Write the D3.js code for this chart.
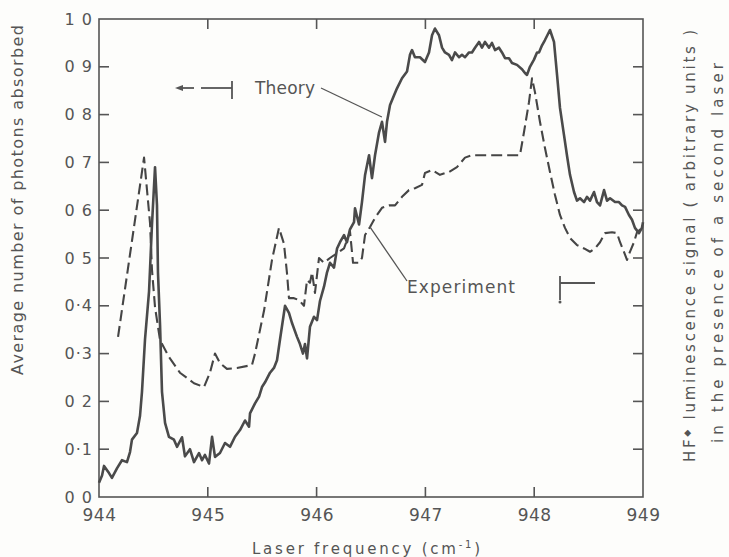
<!DOCTYPE html>
<html>
<head>
<meta charset="utf-8">
<script src="https://cdn.jsdelivr.net/npm/d3@7"></script>
<style>
  html, body { margin: 0; padding: 0; background: #fdfdfb; }
  svg { display: block; }
  text { font-family: "DejaVu Sans", sans-serif; fill: #555; }
</style>
</head>
<body>
<script>
// Axis ticks and labels
const freqTicks = [944, 945, 946, 947, 948, 949];
const freqTickLabels = ["944", "945", "946", "947", "948", "949"];
const yTicks = [0, 0.1, 0.2, 0.3, 0.4, 0.5, 0.6, 0.7, 0.8, 0.9, 1.0];
const yTickLabels = ["0 0", "0·1", "0 2", "0·3", "0·4", "0 5", "0 6", "0 7", "0 8", "0 9", "1 0"];

// Theory: average number of photons absorbed (solid trace), [frequency cm^-1, value]
const theoryCurve = [
  [944.000,0.03],[944.028,0.045],[944.046,0.065],[944.092,0.05],[944.119,0.04],[944.165,0.06],
  [944.211,0.077],[944.257,0.073],[944.285,0.094],[944.303,0.12],[944.349,0.134],[944.377,0.17],
  [944.395,0.22],[944.423,0.33],[944.460,0.43],[944.487,0.57],[944.515,0.69],[944.533,0.61],
  [944.542,0.47],[944.561,0.36],[944.579,0.22],[944.607,0.155],[944.643,0.126],[944.689,0.12],
  [944.717,0.105],[944.763,0.125],[944.790,0.085],[944.836,0.10],[944.873,0.073],[944.919,0.092],
  [944.947,0.077],[944.974,0.088],[945.011,0.07],[945.039,0.126],[945.066,0.084],[945.112,0.092],
  [945.158,0.113],[945.204,0.105],[945.250,0.126],[945.296,0.14],[945.342,0.16],[945.379,0.147],
  [945.388,0.175],[945.434,0.196],[945.471,0.21],[945.498,0.23],[945.526,0.24],[945.572,0.26],
  [945.608,0.27],[945.636,0.286],[945.664,0.33],[945.700,0.385],[945.710,0.40],[945.746,0.385],
  [945.774,0.364],[945.820,0.335],[945.847,0.32],[945.875,0.30],[945.893,0.32],[945.912,0.29],
  [945.939,0.356],[945.976,0.377],[946.004,0.37],[946.031,0.41],[946.068,0.44],[946.096,0.47],
  [946.123,0.49],[946.160,0.48],[946.188,0.52],[946.215,0.533],[946.252,0.548],[946.279,0.533],
  [946.307,0.56],[946.344,0.575],[946.353,0.604],[946.390,0.57],[946.417,0.617],[946.445,0.673],
  [946.482,0.715],[946.509,0.667],[946.537,0.715],[946.574,0.763],[946.601,0.785],[946.629,0.743],
  [946.647,0.785],[946.675,0.82],[946.711,0.84],[946.739,0.855],[946.785,0.876],[946.831,0.89],
  [946.858,0.925],[946.877,0.935],[946.904,0.92],[946.950,0.92],[946.996,0.91],[947.033,0.93],
  [947.061,0.966],[947.088,0.98],[947.125,0.966],[947.153,0.94],[947.180,0.93],[947.217,0.925],
  [947.244,0.914],[947.272,0.93],[947.309,0.92],[947.336,0.925],[947.364,0.92],[947.401,0.93],
  [947.428,0.93],[947.456,0.94],[947.493,0.952],[947.520,0.94],[947.548,0.952],[947.585,0.94],
  [947.612,0.95],[947.640,0.935],[947.676,0.94],[947.704,0.93],[947.732,0.918],[947.768,0.918],
  [947.796,0.908],[947.842,0.904],[947.888,0.895],[947.915,0.887],[947.934,0.883],[947.961,0.90],
  [947.998,0.915],[948.026,0.93],[948.044,0.93],[948.072,0.945],[948.099,0.956],[948.145,0.977],
  [948.182,0.952],[948.210,0.883],[948.237,0.814],[948.274,0.757],[948.301,0.715],[948.329,0.674],
  [948.366,0.638],[948.393,0.62],[948.421,0.625],[948.458,0.617],[948.485,0.628],[948.513,0.62],
  [948.550,0.638],[948.577,0.617],[948.605,0.61],[948.642,0.642],[948.669,0.62],[948.697,0.625],
  [948.743,0.617],[948.779,0.617],[948.807,0.61],[948.835,0.607],[948.871,0.59],[948.899,0.58],
  [948.926,0.563],[948.963,0.552],[948.990,0.563],[949.000,0.575]
];

// Experiment: HF* luminescence signal (dashed trace), [frequency cm^-1, value]
const experimentCurve = [
  [944.175,0.335],[944.414,0.71],[944.469,0.573],[944.487,0.475],[944.515,0.397],[944.561,0.328],
  [944.643,0.293],[944.744,0.26],[944.873,0.238],[944.965,0.23],[945.020,0.26],[945.066,0.30],
  [945.112,0.28],[945.176,0.268],[945.268,0.27],[945.406,0.276],[945.434,0.30],[945.517,0.39],
  [945.590,0.496],[945.654,0.563],[945.700,0.53],[945.728,0.468],[945.746,0.416],[945.792,0.416],
  [945.838,0.412],[945.884,0.40],[945.912,0.454],[945.939,0.448],[945.958,0.47],[945.985,0.427],
  [946.022,0.50],[946.068,0.49],[946.123,0.50],[946.188,0.51],[946.252,0.52],[946.307,0.555],
  [946.335,0.49],[946.390,0.49],[946.417,0.50],[946.445,0.548],[946.491,0.565],[946.537,0.584],
  [946.601,0.605],[946.665,0.61],[946.721,0.61],[946.785,0.628],[946.849,0.642],[946.904,0.646],
  [946.969,0.653],[946.996,0.678],[947.061,0.684],[947.134,0.674],[947.217,0.68],[947.290,0.69],
  [947.364,0.71],[947.428,0.715],[947.869,0.715],[947.906,0.763],[947.952,0.826],[947.980,0.876],
  [948.007,0.847],[948.053,0.785],[948.099,0.73],[948.145,0.68],[948.191,0.632],[948.237,0.59],
  [948.283,0.563],[948.329,0.542],[948.393,0.527],[948.458,0.52],[948.513,0.513],[948.559,0.52],
  [948.605,0.533],[948.651,0.552],[948.715,0.554],[948.761,0.552],[948.789,0.533],[948.825,0.513],
  [948.853,0.496],[948.880,0.513],[948.917,0.533],[948.945,0.554],[948.991,0.563]
];

const W = 729, H = 557;
const plot = { left: 99, right: 643, top: 19, bottom: 497 };
const ink = "#555";

const svg = d3.select("body").append("svg").attr("width", W).attr("height", H);

const x = d3.scaleLinear().domain([944, 949]).range([plot.left, plot.right]);
const y = d3.scaleLinear().domain([0, 1]).range([plot.bottom, plot.top]);

// Frame
svg.append("rect")
  .attr("x", plot.left).attr("y", plot.top)
  .attr("width", plot.right - plot.left).attr("height", plot.bottom - plot.top)
  .attr("fill", "none").attr("stroke", ink).attr("stroke-width", 1.6);

const tickLen = 10;
const inner = freqTicks.slice(1, -1);

// Bottom axis: labels below, ticks drawn inward separately
const xAxisBottom = d3.axisBottom(x).tickValues(freqTicks)
  .tickSize(0).tickPadding(12)
  .tickFormat((d, i) => freqTickLabels[i]);
const gb = svg.append("g").attr("transform", `translate(0,${plot.bottom})`).call(xAxisBottom);
gb.select(".domain").remove();
gb.selectAll("text").attr("font-size", 17).attr("letter-spacing", 0.5).attr("fill", ink);

const tickGroup = svg.append("g").attr("stroke", ink).attr("stroke-width", 1.6);
inner.forEach(f => {
  tickGroup.append("line").attr("x1", x(f)).attr("x2", x(f))
    .attr("y1", plot.bottom).attr("y2", plot.bottom - tickLen);
  tickGroup.append("line").attr("x1", x(f)).attr("x2", x(f))
    .attr("y1", plot.top).attr("y2", plot.top + tickLen);
});
yTicks.slice(1, -1).forEach(v => {
  tickGroup.append("line").attr("x1", plot.left).attr("x2", plot.left + tickLen)
    .attr("y1", y(v)).attr("y2", y(v));
  tickGroup.append("line").attr("x1", plot.right).attr("x2", plot.right - tickLen)
    .attr("y1", y(v)).attr("y2", y(v));
});

// Left axis labels
const yAxisLeft = d3.axisLeft(y).tickValues(yTicks)
  .tickSize(0).tickPadding(6)
  .tickFormat((d, i) => yTickLabels[i]);
const gl = svg.append("g").attr("transform", `translate(${plot.left},0)`).call(yAxisLeft);
gl.select(".domain").remove();
gl.selectAll("text").attr("font-size", 16).attr("letter-spacing", 1).attr("fill", ink);

// Curves
const line = d3.line().x(d => x(d[0])).y(d => y(d[1]));

svg.append("path").datum(experimentCurve)
  .attr("d", line).attr("fill", "none")
  .attr("stroke", "#454545").attr("stroke-width", 2.1)
  .attr("stroke-dasharray", "11,5").attr("stroke-linejoin", "round");

svg.append("path").datum(theoryCurve)
  .attr("d", line).attr("fill", "none")
  .attr("stroke", "#4a4a4a").attr("stroke-width", 2.6)
  .attr("stroke-linejoin", "round");

// Annotations
const ann = svg.append("g").attr("stroke", ink).attr("stroke-width", 1.3).attr("fill", "none");

// Theory label, leader line and left-pointing axis marker
svg.append("text").attr("x", 255).attr("y", 94).attr("font-size", 17)
  .attr("textLength", 60).attr("lengthAdjust", "spacing").text("Theory");
ann.append("line").attr("x1", 321).attr("y1", 88).attr("x2", x(946.6)).attr("y2", y(0.795));
ann.append("line").attr("x1", 180).attr("y1", 88).attr("x2", 194).attr("y2", 88).attr("stroke-width", 1.8);
ann.append("line").attr("x1", 201).attr("y1", 88).attr("x2", 232).attr("y2", 88).attr("stroke-width", 1.8);
ann.append("line").attr("x1", 232).attr("y1", 81).attr("x2", 232).attr("y2", 99).attr("stroke-width", 1.8);
svg.append("path").attr("d", "M175,88 L183,85 L183,91 Z").attr("fill", ink);

// Experiment label, leader line and right-pointing axis marker
svg.append("text").attr("x", 407).attr("y", 293).attr("font-size", 17)
  .attr("textLength", 108).attr("lengthAdjust", "spacing").text("Experiment");
ann.append("line").attr("x1", x(946.49)).attr("y1", y(0.565)).attr("x2", 407).attr("y2", 281);
ann.append("line").attr("x1", 560).attr("y1", 276).attr("x2", 560).attr("y2", 300).attr("stroke-width", 1.8);
ann.append("line").attr("x1", 560).attr("y1", 283).attr("x2", 595).attr("y2", 283).attr("stroke-width", 1.8);
svg.append("circle").attr("cx", 560).attr("cy", 302).attr("r", 1.5).attr("fill", ink);

// Axis titles
const xt = svg.append("text").attr("x", 252).attr("y", 554).attr("font-size", 15)
  .attr("textLength", 228).attr("lengthAdjust", "spacing");
xt.append("tspan").text("Laser  frequency  (cm");
xt.append("tspan").attr("font-size", 10).attr("dy", -6).text("-1");
xt.append("tspan").attr("dy", 6).text(")");

svg.append("text")
  .attr("transform", "translate(23,375) rotate(-90)")
  .attr("font-size", 16).attr("textLength", 350).attr("lengthAdjust", "spacing")
  .text("Average  number  of  photons  absorbed");

const r1 = svg.append("text")
  .attr("transform", "translate(695,462) rotate(-90)")
  .attr("font-size", 15).attr("textLength", 432).attr("lengthAdjust", "spacing");
r1.append("tspan").text("HF");
r1.append("tspan").attr("font-size", 9).attr("dy", -5).text("◆");
r1.append("tspan").attr("dy", 5).text("  luminescence  signal  ( arbitrary  units )");

svg.append("text")
  .attr("transform", "translate(723,443) rotate(-90)")
  .attr("font-size", 15).attr("textLength", 380).attr("lengthAdjust", "spacing")
  .text("in  the  presence  of  a  second  laser");
</script>
</body>
</html>
